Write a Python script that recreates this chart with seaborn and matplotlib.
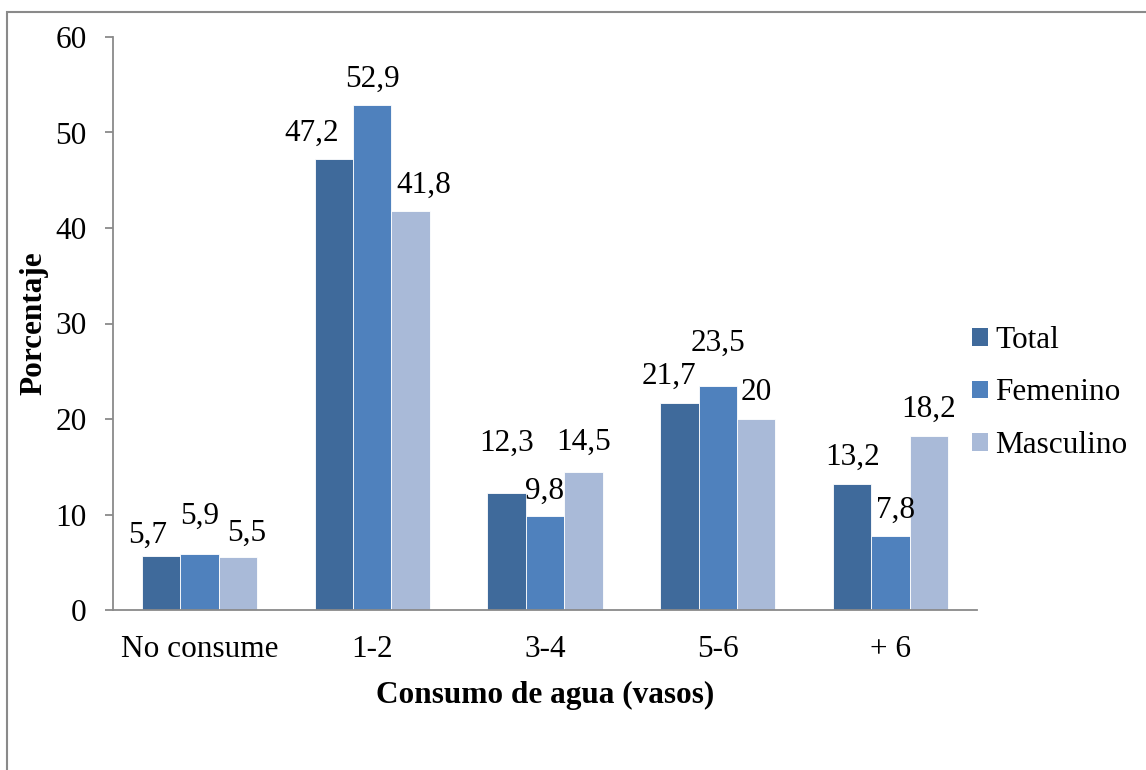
import matplotlib
matplotlib.use("Agg")
import matplotlib.pyplot as plt
from matplotlib.patches import Rectangle, Patch
import pandas as pd
import seaborn as sns

# data
categorias = ["No consume", "1-2", "3-4", "5-6", "+ 6"]
grupos = ["Total", "Femenino", "Masculino"]
total = [5.7, 47.2, 12.3, 21.7, 13.2]
femenino = [5.9, 52.9, 9.8, 23.5, 7.8]
masculino = [5.5, 41.8, 14.5, 20.0, 18.2]
colores = ["#3F6A9B", "#4F81BD", "#A9BAD8"]

# label nudges (pixels: dx, baseline above bar top) as placed in the original
offsets = {
    "Total": [(-13, 13), (-22, 18), (0, 42), (-10, 19), (0, 19)],
    "Femenino": [(0, 30), (0, 18), (0, 18), (0, 35), (5, 18)],
    "Masculino": [(9, 17), (13, 18), (0, 22), (0, 19), (0, 19)],
}

df = pd.DataFrame({
    "consumo": categorias * 3,
    "grupo": [g for g in grupos for _ in categorias],
    "pct": total + femenino + masculino,
})

sns.set_style("white")
plt.rcParams["font.family"] = ["Liberation Serif", "DejaVu Serif"]
plt.rcParams["text.color"] = "black"
plt.rcParams["axes.labelcolor"] = "black"
plt.rcParams["xtick.labelcolor"] = "black"
plt.rcParams["ytick.labelcolor"] = "black"
FS = 22.5
GRAY = "#8A8A8A"

fig = plt.figure(figsize=(11.46, 7.70), dpi=100)
ax = fig.add_axes([113 / 1146, 1 - 610 / 770, (977 - 113) / 1146, (610 - 37) / 770])

sns.barplot(data=df, x="consumo", y="pct", hue="grupo", order=categorias,
            hue_order=grupos, palette=colores, saturation=1, width=0.667,
            edgecolor="white", linewidth=0.6, ax=ax, legend=False)

ax.set_xlim(-0.5, len(categorias) - 0.5)
ax.set_ylim(0, 60)
ax.set_yticks(range(0, 61, 10))

for cont, g in zip(ax.containers, grupos):
    for bar, (dx, dy) in zip(cont.patches, offsets[g]):
        v = bar.get_height()
        ax.annotate(f"{v:g}".replace(".", ","),
                    xy=(bar.get_x() + bar.get_width() / 2, v),
                    xytext=(dx * 0.72, dy * 0.72), textcoords="offset points",
                    ha="center", va="baseline", fontsize=FS, color="black")

for s in ["top", "right"]:
    ax.spines[s].set_visible(False)
for s in ["left", "bottom"]:
    ax.spines[s].set_color(GRAY)
    ax.spines[s].set_linewidth(1.3)

ax.tick_params(axis="y", length=6, width=1.3, color=GRAY, pad=13, labelsize=FS, left=True)
ax.tick_params(axis="x", length=0, pad=18, labelsize=FS)

ax.set_xlabel("Consumo de agua (vasos)", fontsize=FS, fontweight="bold", labelpad=12)
ax.set_ylabel("Porcentaje", fontsize=FS, fontweight="bold", labelpad=5)

handles = [Patch(facecolor=c, edgecolor="none") for c in colores]
fig.legend(handles, grupos, loc="center left", bbox_to_anchor=(972 / 1146, 1 - 393 / 770),
           frameon=False, fontsize=FS, handlelength=0.5, handleheight=0.5,
           handletextpad=0.25, labelspacing=0.75, borderpad=0, borderaxespad=0)

# outer chart frame
fig.patches.append(Rectangle((7 / 1146, -0.1), 1.2, 1 - 12 / 770 + 0.1,
                             transform=fig.transFigure, fill=False,
                             edgecolor=GRAY, linewidth=1.5))

fig.savefig("out.png", dpi=100)
